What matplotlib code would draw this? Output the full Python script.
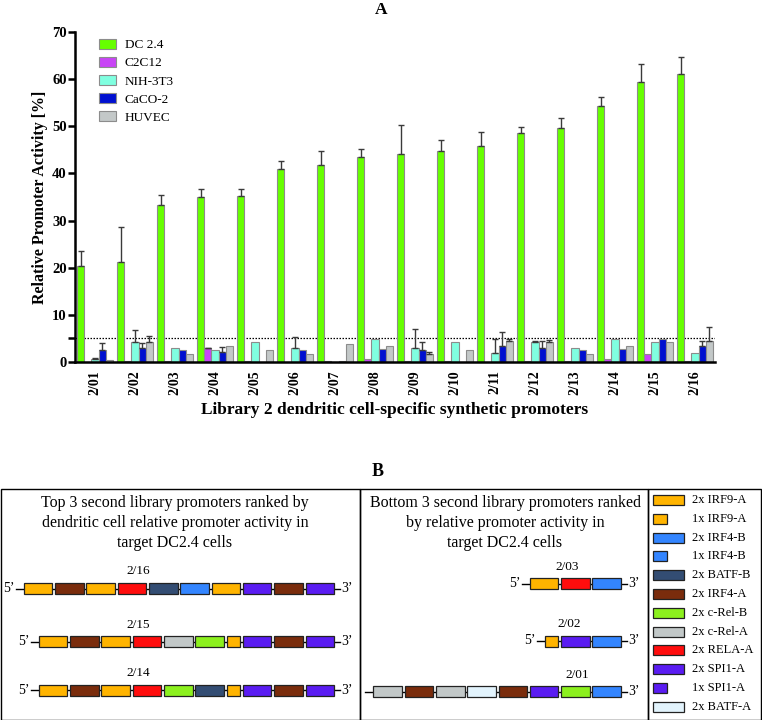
import matplotlib
matplotlib.use('Agg')
import matplotlib.pyplot as plt
from matplotlib.patches import Rectangle, Patch
import numpy as np

plt.rcParams['font.family'] = ['Liberation Serif', 'DejaVu Serif']

# ---------------- data: panel A ----------------
promoters = ['2/01', '2/02', '2/03', '2/04', '2/05', '2/06', '2/07', '2/08',
             '2/09', '2/10', '2/11', '2/12', '2/13', '2/14', '2/15', '2/16']
cell_lines = ['DC 2.4', 'C2C12', 'NIH-3T3', 'CaCO-2', 'HUVEC']

dc24 = [20.3, 21.2, 33.3, 35.1, 35.2, 40.9, 41.7, 43.5, 44.1, 44.7, 45.8, 48.6, 49.6, 54.2, 59.5, 61.1]
dc24_err = [3.3, 7.5, 2.2, 1.5, 1.6, 1.7, 3.0, 1.6, 6.2, 2.4, 3.0, 1.2, 2.1, 2.1, 3.7, 3.7]
c2c12 = [0.1, 0.2, 0.2, 2.9, 0.2, 0.0, 0.2, 0.6, 0.2, 0.2, 0.0, 0.2, 0.2, 0.6, 1.7, 0.2]
c2c12_err = [0, 0, 0, 0.1, 0, 0, 0, 0, 0, 0, 0, 0, 0, 0, 0, 0]
nih3t3 = [0.6, 4.2, 3.0, 2.6, 4.2, 3.0, 0.0, 4.9, 3.0, 4.2, 2.0, 4.2, 3.0, 4.9, 4.2, 2.0]
nih3t3_err = [0.3, 2.6, 0, 0, 0, 2.2, 0, 0, 4.0, 0, 2.9, 0.2, 0, 0, 0, 0]
caco2 = [2.5, 3.0, 2.5, 2.1, 0.0, 2.5, 0.2, 2.8, 2.5, 0.0, 3.3, 3.0, 2.5, 2.8, 4.8, 3.3]
caco2_err = [1.6, 1.0, 0, 1.1, 0, 0, 0, 0, 1.7, 0, 3.0, 1.5, 0, 0, 0, 1.1]
huvec = [0.4, 4.2, 1.7, 3.5, 2.5, 1.7, 3.8, 3.4, 1.8, 2.5, 4.5, 4.2, 1.7, 3.4, 4.3, 4.5]
huvec_err = [0, 1.3, 0, 0, 0, 0, 0, 0, 0.4, 0, 0.4, 0.5, 0, 0, 0, 2.9]
threshold = 5

series = [dc24, c2c12, nih3t3, caco2, huvec]
series_err = [dc24_err, c2c12_err, nih3t3_err, caco2_err, huvec_err]
bar_colors = ['#66ff00', '#c845f5', '#80ffe0', '#0010d0', '#c3c8c8']

# ---------------- data: panel B ----------------
element_labels = ['2x IRF9-A', '1x IRF9-A', '2x IRF4-B', '1x IRF4-B', '2x BATF-B', '2x IRF4-A',
                  '2x c-Rel-B', '2x c-Rel-A', '2x RELA-A', '2x SPI1-A', '1x SPI1-A', '2x BATF-A']
factor_colors = {'IRF9-A': '#ffb400', 'IRF4-B': '#3385ff', 'BATF-B': '#334d73',
                 'IRF4-A': '#7a2c0c', 'c-Rel-B': '#8cf01e', 'c-Rel-A': '#c2c8c8',
                 'RELA-A': '#ff0d0d', 'SPI1-A': '#5a1cf2', 'BATF-A': '#e2f3fc'}

top_names = ['2/16', '2/15', '2/14']
top_2_16 = ['2x IRF9-A', '2x IRF4-A', '2x IRF9-A', '2x RELA-A', '2x BATF-B', '2x IRF4-B',
            '2x IRF9-A', '2x SPI1-A', '2x IRF4-A', '2x SPI1-A']
top_2_15 = ['2x IRF9-A', '2x IRF4-A', '2x IRF9-A', '2x RELA-A', '2x c-Rel-A', '2x c-Rel-B',
            '1x IRF9-A', '2x SPI1-A', '2x IRF4-A', '2x SPI1-A']
top_2_14 = ['2x IRF9-A', '2x IRF4-A', '2x IRF9-A', '2x RELA-A', '2x c-Rel-B', '2x BATF-B',
            '1x IRF9-A', '2x SPI1-A', '2x IRF4-A', '2x SPI1-A']
bottom_names = ['2/03', '2/02', '2/01']
bottom_2_03 = ['2x IRF9-A', '2x RELA-A', '2x IRF4-B']
bottom_2_02 = ['1x IRF9-A', '2x SPI1-A', '2x IRF4-B']
bottom_2_01 = ['2x c-Rel-A', '2x IRF4-A', '2x c-Rel-A', '2x BATF-A', '2x IRF4-A', '2x SPI1-A',
               '2x c-Rel-B', '2x IRF4-B']

top_title = ['Top 3 second library promoters ranked by',
             'dendritic cell relative promoter activity in',
             'target DC2.4 cells']
bottom_title = ['Bottom 3 second library promoters ranked',
                'by relative promoter activity in',
                'target DC2.4 cells']

# ---------------- figure ----------------
W, H = 762, 720
fig = plt.figure(figsize=(W / 100, H / 100), dpi=100)

ax = fig.add_axes([75 / W, (H - 362) / H, 640 / W, 330 / H])
x = np.arange(len(promoters))
bw = 0.18
for k, (vals, errs, col, lab) in enumerate(zip(series, series_err, bar_colors, cell_lines)):
    pos = x + (k - 2) * bw
    ax.bar(pos, vals, width=bw, color=col, edgecolor='#8c8c8c', linewidth=0.8,
           label=lab, zorder=2)
    errs = np.array(errs)
    m = errs > 0
    ax.errorbar(pos[m], np.array(vals)[m], yerr=[np.zeros(m.sum()), errs[m]], fmt='none',
                ecolor='#3a3a3a', elinewidth=1.0, capsize=2.2, capthick=1.0, zorder=3)

ax.axhline(threshold, color='black', linestyle=(0, (1.2, 1.2)), linewidth=0.9, zorder=1)
ax.set_xlim(-0.5, 15.5)
ax.set_ylim(0, 70)
ax.set_yticks([0, 5, 10, 20, 30, 40, 50, 60, 70])
ax.set_yticklabels(['0', '', '10', '20', '30', '40', '50', '60', '70'])
ax.set_xticks(x)
ax.set_xticklabels(promoters, rotation=90, fontweight='bold', fontsize=10)
for lbl in ax.get_yticklabels():
    lbl.set_fontweight('bold')
    lbl.set_fontsize(10.5)
ax.tick_params(axis='y', length=5, width=1.8, pad=1)
ax.tick_params(axis='x', length=0, pad=6)
for s in ['top', 'right']:
    ax.spines[s].set_visible(False)
for s in ['left', 'bottom']:
    ax.spines[s].set_linewidth(1.8)
ax.set_ylabel('Relative Promoter Activity [%]', fontweight='bold', fontsize=11.5, labelpad=3)
ax.set_xlabel('Library 2 dendritic cell-specific synthetic promoters', fontweight='bold',
              fontsize=12.5, labelpad=5)
ax.legend(loc='upper left', bbox_to_anchor=(0.027, 1.0), frameon=False, fontsize=9.5,
          handlelength=1.3, handleheight=0.8, labelspacing=0.42, handletextpad=0.65,
          borderaxespad=0.1)
for h in ax.get_legend().legend_handles:
    h.set_edgecolor('#8c8c8c')

fig.text(381 / W, 1 - 10 / H, 'A', ha='center', va='center', fontweight='bold', fontsize=12.5)

# ---------------- panel B ----------------
axb = fig.add_axes([0, 0, 1, 1])
axb.set_xlim(0, W)
axb.set_ylim(H, 0)
axb.axis('off')
axb.patch.set_visible(False)

axb.text(378, 471, 'B', ha='center', va='center', fontweight='bold', fontsize=13)

box_top, box_bot = 488.5, 719.5
for (x0, x1) in [(1, 360), (360, 648), (648, 761)]:
    axb.add_patch(Rectangle((x0, box_top), x1 - x0, box_bot - box_top, fill=False,
                            edgecolor='black', linewidth=1.0))

for i, line in enumerate(top_title):
    axb.text(175, 503 + i * 20, line, ha='center', va='center', fontsize=11.5)
for i, line in enumerate(bottom_title):
    axb.text(505, 503 + i * 20, line, ha='center', va='center', fontsize=11.5)

W2, W1, GAP, BH = 28.5, 13.5, 2.8, 11


def draw_row(elements, x_end, y, name, name_x, show5=True):
    widths = [W2 if e.startswith('2x') else W1 for e in elements]
    total = sum(widths) + GAP * (len(widths) - 1)
    xs = x_end - total
    axb.plot([xs - 8, x_end + 6], [y, y], color='black', linewidth=1.0, zorder=1)
    cx = xs
    for e, w in zip(elements, widths):
        fac = e.split(' ', 1)[1]
        axb.add_patch(Rectangle((cx, y - BH / 2), w, BH, facecolor=factor_colors[fac],
                                edgecolor='#222222', linewidth=0.9, zorder=2))
        cx += w + GAP
    if show5:
        axb.text(xs - 9, y, '5\u2019', ha='right', va='center', fontsize=10)
    axb.text(x_end + 7, y, '3\u2019', ha='left', va='center', fontsize=10)
    axb.text(name_x, y - 17, name, ha='center', va='center', fontsize=9.5)


top_rows = [top_2_16, top_2_15, top_2_14]
top_y = [588.5, 641.5, 690]
for name, row, yy in zip(top_names, top_rows, top_y):
    draw_row(row, 334, yy, name, 138)

bottom_rows = [bottom_2_03, bottom_2_02, bottom_2_01]
bottom_y = [583.5, 641, 691.5]
bottom_label_x = [567, 569, 577]
for name, row, yy, lx in zip(bottom_names, bottom_rows, bottom_y, bottom_label_x):
    draw_row(row, 621, yy, name, lx, show5=(name != '2/01'))

# element legend
for i, lab in enumerate(element_labels):
    yy = 500 + i * 18.8
    fac = lab.split(' ', 1)[1]
    w = 31 if lab.startswith('2x') else 14
    axb.add_patch(Rectangle((653, yy - 5), w, 10, facecolor=factor_colors[fac],
                            edgecolor='#222222', linewidth=0.9))
    axb.text(692, yy, lab, ha='left', va='center', fontsize=9)

fig.savefig('out.png', dpi=100)
